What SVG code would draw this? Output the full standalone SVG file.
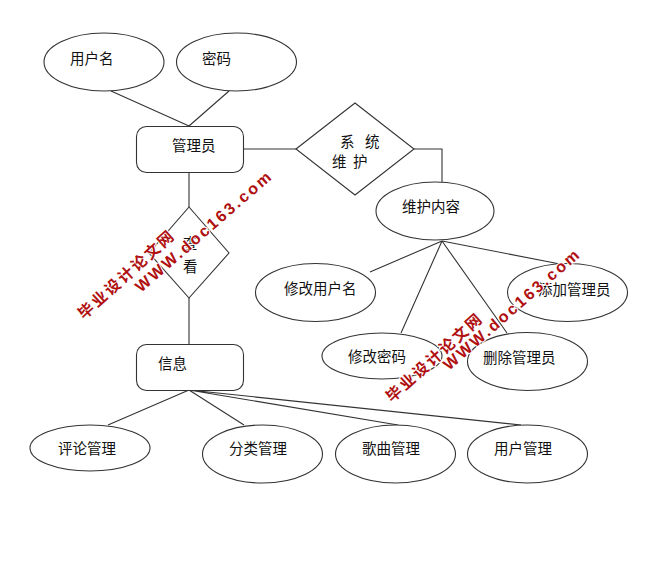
<svg xmlns="http://www.w3.org/2000/svg" width="662" height="578" viewBox="0 0 662 578">
<style>
.s{fill:#fff;stroke:#333;stroke-width:1.1}
.l{fill:none;stroke:#333;stroke-width:1.1}
.t{font-family:"Noto Sans CJK SC","Liberation Sans",sans-serif;font-size:14.500px;fill:#111}
.w{font-family:"Noto Sans CJK SC","Liberation Sans",sans-serif;font-weight:700;fill:#b01010;stroke:#fff;stroke-width:2px;paint-order:stroke}
.a{font-size:15.500px;letter-spacing:2.300px}
.b{font-family:"Liberation Sans",sans-serif;font-size:16px;letter-spacing:2.500px}
</style>
<rect width="662" height="578" fill="#fff"/>
<g id="connectors">
<path class="l" d="M111 91L189 126M229 91L189 126M243 149H296M414 149H442V182M189 172V207M189 298V344M442 241L370 272M442 241L401 333M442 241L507 333M442 241L560 264M189 390L108 425M189 390L244 425M189 390L398 425M189 390L521 425"/>
</g>
<g id="n-username"><ellipse class="s" cx="104" cy="62" rx="60" ry="29"/><text class="t" x="70" y="64">用户名</text></g>
<g id="n-password"><ellipse class="s" cx="236.500" cy="62" rx="60" ry="29"/><text class="t" x="202" y="64">密码</text></g>
<g id="n-admin"><rect class="s" x="136.500" y="126.500" width="107" height="46" rx="10"/><text class="t" x="172" y="151">管理员</text></g>
<g id="n-system"><path class="s" d="M296 149L355 103L414 149L355 195Z"/><text class="t" x="340 365" y="147">系统</text><text class="t" x="332 353" y="167">维护</text></g>
<g id="n-content"><ellipse class="s" cx="435" cy="211" rx="59" ry="29"/><text class="t" x="402" y="212">维护内容</text></g>
<g id="n-view"><path class="s" d="M189 207L229 253L189 298L149 253Z"/><text class="t" x="183" y="249">查</text><text class="t" x="183" y="272">看</text></g>
<g id="n-info"><rect class="s" x="136.500" y="344.500" width="107" height="46" rx="10"/><text class="t" x="158" y="369">信息</text></g>
<g id="n-edituser"><ellipse class="s" cx="315.500" cy="292.500" rx="60" ry="29"/><text class="t" x="284" y="294">修改用户名</text></g>
<g id="n-addadmin"><ellipse class="s" cx="567.500" cy="292.500" rx="60" ry="29"/><text class="t" x="538" y="295">添加管理员</text></g>
<g id="n-deladmin"><ellipse class="s" cx="527.500" cy="361.500" rx="60" ry="29"/><text class="t" x="483" y="363">删除管理员</text></g>
<g id="n-editpass"><ellipse class="s" cx="382" cy="356" rx="60" ry="23"/><text class="t" x="348" y="362">修改密码</text></g>
<g id="n-comment"><ellipse class="s" cx="90" cy="448" rx="60" ry="23"/><text class="t" x="58" y="454">评论管理</text></g>
<g id="n-category"><ellipse class="s" cx="262.500" cy="454" rx="60" ry="29"/><text class="t" x="229" y="454">分类管理</text></g>
<g id="n-song"><ellipse class="s" cx="395.500" cy="454" rx="60" ry="29"/><text class="t" x="362" y="454">歌曲管理</text></g>
<g id="n-user"><ellipse class="s" cx="527.500" cy="454" rx="60" ry="29"/><text class="t" x="494" y="454">用户管理</text></g>
<g id="watermark">
<text class="w a" transform="translate(84 320) rotate(-42)">毕业设计论文网</text>
<text class="w b" transform="translate(141 293) rotate(-41)">WWW.doc163.com</text>
<text class="w a" transform="translate(392 403) rotate(-42)">毕业设计论文网</text>
<text class="w b" transform="translate(449 371) rotate(-41)">WWW.doc163.com</text>
</g>
</svg>
